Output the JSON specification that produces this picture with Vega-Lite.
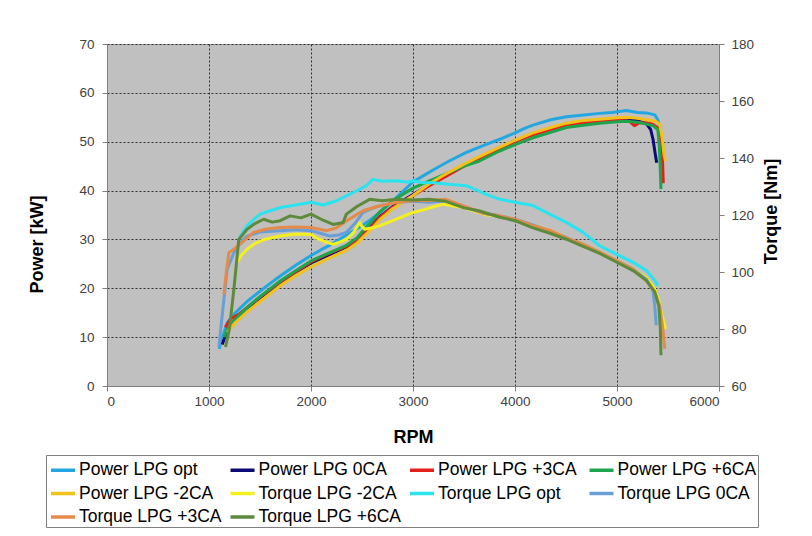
{
  "$schema": "https://vega.github.io/schema/vega-lite/v6.json",
  "width": 612,
  "height": 342,
  "autosize": {"type": "none"},
  "padding": {"left": 107, "top": 44, "right": 93, "bottom": 150},
  "background": "white",
  "config": {
    "font": "Liberation Sans",
    "view": {"fill": "#C0C0C0", "stroke": "#A0A0A0"},
    "axis": {
      "labelFont": "Liberation Sans",
      "labelFontSize": 13.5,
      "labelColor": "#404040",
      "titleFont": "Liberation Sans",
      "titleFontSize": 18,
      "titleFontWeight": "bold",
      "titleColor": "#000000",
      "tickColor": "#808080",
      "domainColor": "#808080",
      "tickSize": 5,
      "gridColor": "#303030",
      "gridDash": [2, 2],
      "gridWidth": 1,
      "gridOpacity": 1
    }
  },
  "datasets": {
    "power": [
      {"s": "Power LPG opt", "rpm": 1100, "v": 7.6}, {"s": "Power LPG opt", "rpm": 1140, "v": 10.5}, {"s": "Power LPG opt", "rpm": 1180, "v": 13.0}, {"s": "Power LPG opt", "rpm": 1250, "v": 14.8}, {"s": "Power LPG opt", "rpm": 1373, "v": 17.3}, {"s": "Power LPG opt", "rpm": 1500, "v": 19.4}, {"s": "Power LPG opt", "rpm": 1600, "v": 21.0}, {"s": "Power LPG opt", "rpm": 1698, "v": 22.5}, {"s": "Power LPG opt", "rpm": 1850, "v": 24.7}, {"s": "Power LPG opt", "rpm": 2000, "v": 26.7}, {"s": "Power LPG opt", "rpm": 2100, "v": 27.9}, {"s": "Power LPG opt", "rpm": 2200, "v": 29.0}, {"s": "Power LPG opt", "rpm": 2347, "v": 30.9}, {"s": "Power LPG opt", "rpm": 2500, "v": 32.8}, {"s": "Power LPG opt", "rpm": 2600, "v": 34.3}, {"s": "Power LPG opt", "rpm": 2672, "v": 35.5}, {"s": "Power LPG opt", "rpm": 2850, "v": 38.8}, {"s": "Power LPG opt", "rpm": 3000, "v": 41.8}, {"s": "Power LPG opt", "rpm": 3100, "v": 43.0}, {"s": "Power LPG opt", "rpm": 3196, "v": 44.2}, {"s": "Power LPG opt", "rpm": 3350, "v": 46.0}, {"s": "Power LPG opt", "rpm": 3523, "v": 47.8}, {"s": "Power LPG opt", "rpm": 3700, "v": 49.3}, {"s": "Power LPG opt", "rpm": 3850, "v": 50.5}, {"s": "Power LPG opt", "rpm": 4000, "v": 51.8}, {"s": "Power LPG opt", "rpm": 4100, "v": 52.8}, {"s": "Power LPG opt", "rpm": 4176, "v": 53.4}, {"s": "Power LPG opt", "rpm": 4350, "v": 54.5}, {"s": "Power LPG opt", "rpm": 4503, "v": 55.1}, {"s": "Power LPG opt", "rpm": 4650, "v": 55.4}, {"s": "Power LPG opt", "rpm": 4830, "v": 55.8}, {"s": "Power LPG opt", "rpm": 4950, "v": 56.0}, {"s": "Power LPG opt", "rpm": 5092, "v": 56.4}, {"s": "Power LPG opt", "rpm": 5200, "v": 56.0}, {"s": "Power LPG opt", "rpm": 5288, "v": 55.9}, {"s": "Power LPG opt", "rpm": 5370, "v": 55.5}, {"s": "Power LPG opt", "rpm": 5400, "v": 54.5}, {"s": "Power LPG opt", "rpm": 5415, "v": 53.2},
      {"s": "Power LPG 0CA", "rpm": 1130, "v": 8.5}, {"s": "Power LPG 0CA", "rpm": 1180, "v": 11.5}, {"s": "Power LPG 0CA", "rpm": 1250, "v": 13.4}, {"s": "Power LPG 0CA", "rpm": 1373, "v": 15.9}, {"s": "Power LPG 0CA", "rpm": 1500, "v": 18.0}, {"s": "Power LPG 0CA", "rpm": 1698, "v": 21.2}, {"s": "Power LPG 0CA", "rpm": 1850, "v": 23.3}, {"s": "Power LPG 0CA", "rpm": 2000, "v": 25.2}, {"s": "Power LPG 0CA", "rpm": 2150, "v": 26.6}, {"s": "Power LPG 0CA", "rpm": 2347, "v": 28.4}, {"s": "Power LPG 0CA", "rpm": 2450, "v": 29.9}, {"s": "Power LPG 0CA", "rpm": 2510, "v": 31.2}, {"s": "Power LPG 0CA", "rpm": 2600, "v": 33.0}, {"s": "Power LPG 0CA", "rpm": 2672, "v": 34.6}, {"s": "Power LPG 0CA", "rpm": 2800, "v": 36.7}, {"s": "Power LPG 0CA", "rpm": 3000, "v": 39.2}, {"s": "Power LPG 0CA", "rpm": 3160, "v": 41.2}, {"s": "Power LPG 0CA", "rpm": 3321, "v": 43.0}, {"s": "Power LPG 0CA", "rpm": 3500, "v": 45.1}, {"s": "Power LPG 0CA", "rpm": 3646, "v": 46.6}, {"s": "Power LPG 0CA", "rpm": 3850, "v": 48.8}, {"s": "Power LPG 0CA", "rpm": 4000, "v": 50.2}, {"s": "Power LPG 0CA", "rpm": 4176, "v": 51.6}, {"s": "Power LPG 0CA", "rpm": 4350, "v": 52.7}, {"s": "Power LPG 0CA", "rpm": 4503, "v": 53.6}, {"s": "Power LPG 0CA", "rpm": 4650, "v": 54.0}, {"s": "Power LPG 0CA", "rpm": 4830, "v": 54.3}, {"s": "Power LPG 0CA", "rpm": 5000, "v": 54.6}, {"s": "Power LPG 0CA", "rpm": 5092, "v": 54.7}, {"s": "Power LPG 0CA", "rpm": 5200, "v": 54.3}, {"s": "Power LPG 0CA", "rpm": 5288, "v": 53.7}, {"s": "Power LPG 0CA", "rpm": 5330, "v": 52.5}, {"s": "Power LPG 0CA", "rpm": 5353, "v": 50.5}, {"s": "Power LPG 0CA", "rpm": 5375, "v": 47.5}, {"s": "Power LPG 0CA", "rpm": 5389, "v": 45.7},
      {"s": "Power LPG +3CA", "rpm": 1160, "v": 12.0}, {"s": "Power LPG +3CA", "rpm": 1211, "v": 13.7}, {"s": "Power LPG +3CA", "rpm": 1300, "v": 14.8}, {"s": "Power LPG +3CA", "rpm": 1400, "v": 16.5}, {"s": "Power LPG +3CA", "rpm": 1500, "v": 18.2}, {"s": "Power LPG +3CA", "rpm": 1698, "v": 21.3}, {"s": "Power LPG +3CA", "rpm": 1850, "v": 23.4}, {"s": "Power LPG +3CA", "rpm": 2000, "v": 25.4}, {"s": "Power LPG +3CA", "rpm": 2150, "v": 26.9}, {"s": "Power LPG +3CA", "rpm": 2347, "v": 28.6}, {"s": "Power LPG +3CA", "rpm": 2450, "v": 29.8}, {"s": "Power LPG +3CA", "rpm": 2510, "v": 31.0}, {"s": "Power LPG +3CA", "rpm": 2600, "v": 32.8}, {"s": "Power LPG +3CA", "rpm": 2672, "v": 34.5}, {"s": "Power LPG +3CA", "rpm": 2800, "v": 36.6}, {"s": "Power LPG +3CA", "rpm": 3000, "v": 39.0}, {"s": "Power LPG +3CA", "rpm": 3160, "v": 41.0}, {"s": "Power LPG +3CA", "rpm": 3321, "v": 42.9}, {"s": "Power LPG +3CA", "rpm": 3500, "v": 45.0}, {"s": "Power LPG +3CA", "rpm": 3646, "v": 46.5}, {"s": "Power LPG +3CA", "rpm": 3850, "v": 48.6}, {"s": "Power LPG +3CA", "rpm": 4000, "v": 50.0}, {"s": "Power LPG +3CA", "rpm": 4176, "v": 51.4}, {"s": "Power LPG +3CA", "rpm": 4350, "v": 52.5}, {"s": "Power LPG +3CA", "rpm": 4503, "v": 53.3}, {"s": "Power LPG +3CA", "rpm": 4650, "v": 53.8}, {"s": "Power LPG +3CA", "rpm": 4830, "v": 54.2}, {"s": "Power LPG +3CA", "rpm": 5000, "v": 54.5}, {"s": "Power LPG +3CA", "rpm": 5120, "v": 54.2}, {"s": "Power LPG +3CA", "rpm": 5170, "v": 53.3}, {"s": "Power LPG +3CA", "rpm": 5220, "v": 53.9}, {"s": "Power LPG +3CA", "rpm": 5288, "v": 53.9}, {"s": "Power LPG +3CA", "rpm": 5350, "v": 53.6}, {"s": "Power LPG +3CA", "rpm": 5400, "v": 52.8}, {"s": "Power LPG +3CA", "rpm": 5430, "v": 50.5}, {"s": "Power LPG +3CA", "rpm": 5445, "v": 47.0}, {"s": "Power LPG +3CA", "rpm": 5454, "v": 41.5},
      {"s": "Power LPG +6CA", "rpm": 1146, "v": 10.0}, {"s": "Power LPG +6CA", "rpm": 1180, "v": 11.6}, {"s": "Power LPG +6CA", "rpm": 1250, "v": 13.5}, {"s": "Power LPG +6CA", "rpm": 1373, "v": 16.1}, {"s": "Power LPG +6CA", "rpm": 1500, "v": 18.3}, {"s": "Power LPG +6CA", "rpm": 1698, "v": 21.5}, {"s": "Power LPG +6CA", "rpm": 1850, "v": 23.6}, {"s": "Power LPG +6CA", "rpm": 2000, "v": 25.6}, {"s": "Power LPG +6CA", "rpm": 2150, "v": 27.0}, {"s": "Power LPG +6CA", "rpm": 2347, "v": 28.8}, {"s": "Power LPG +6CA", "rpm": 2450, "v": 30.3}, {"s": "Power LPG +6CA", "rpm": 2510, "v": 31.8}, {"s": "Power LPG +6CA", "rpm": 2600, "v": 33.8}, {"s": "Power LPG +6CA", "rpm": 2672, "v": 35.6}, {"s": "Power LPG +6CA", "rpm": 2800, "v": 37.9}, {"s": "Power LPG +6CA", "rpm": 3000, "v": 40.5}, {"s": "Power LPG +6CA", "rpm": 3160, "v": 42.0}, {"s": "Power LPG +6CA", "rpm": 3321, "v": 43.4}, {"s": "Power LPG +6CA", "rpm": 3500, "v": 45.0}, {"s": "Power LPG +6CA", "rpm": 3646, "v": 46.0}, {"s": "Power LPG +6CA", "rpm": 3850, "v": 48.1}, {"s": "Power LPG +6CA", "rpm": 4000, "v": 49.4}, {"s": "Power LPG +6CA", "rpm": 4176, "v": 50.8}, {"s": "Power LPG +6CA", "rpm": 4350, "v": 51.9}, {"s": "Power LPG +6CA", "rpm": 4503, "v": 52.9}, {"s": "Power LPG +6CA", "rpm": 4650, "v": 53.3}, {"s": "Power LPG +6CA", "rpm": 4830, "v": 53.8}, {"s": "Power LPG +6CA", "rpm": 5000, "v": 54.1}, {"s": "Power LPG +6CA", "rpm": 5092, "v": 54.2}, {"s": "Power LPG +6CA", "rpm": 5200, "v": 54.0}, {"s": "Power LPG +6CA", "rpm": 5288, "v": 53.6}, {"s": "Power LPG +6CA", "rpm": 5350, "v": 53.3}, {"s": "Power LPG +6CA", "rpm": 5400, "v": 52.5}, {"s": "Power LPG +6CA", "rpm": 5415, "v": 49.0}, {"s": "Power LPG +6CA", "rpm": 5425, "v": 44.0}, {"s": "Power LPG +6CA", "rpm": 5431, "v": 40.3},
      {"s": "Power LPG -2CA", "rpm": 1179, "v": 11.0}, {"s": "Power LPG -2CA", "rpm": 1250, "v": 12.8}, {"s": "Power LPG -2CA", "rpm": 1373, "v": 15.2}, {"s": "Power LPG -2CA", "rpm": 1500, "v": 17.3}, {"s": "Power LPG -2CA", "rpm": 1698, "v": 20.5}, {"s": "Power LPG -2CA", "rpm": 1850, "v": 22.6}, {"s": "Power LPG -2CA", "rpm": 2000, "v": 24.4}, {"s": "Power LPG -2CA", "rpm": 2150, "v": 25.9}, {"s": "Power LPG -2CA", "rpm": 2347, "v": 27.8}, {"s": "Power LPG -2CA", "rpm": 2450, "v": 29.2}, {"s": "Power LPG -2CA", "rpm": 2510, "v": 30.5}, {"s": "Power LPG -2CA", "rpm": 2600, "v": 32.3}, {"s": "Power LPG -2CA", "rpm": 2672, "v": 34.0}, {"s": "Power LPG -2CA", "rpm": 2800, "v": 36.3}, {"s": "Power LPG -2CA", "rpm": 3000, "v": 39.0}, {"s": "Power LPG -2CA", "rpm": 3160, "v": 41.4}, {"s": "Power LPG -2CA", "rpm": 3321, "v": 43.4}, {"s": "Power LPG -2CA", "rpm": 3500, "v": 45.4}, {"s": "Power LPG -2CA", "rpm": 3646, "v": 46.9}, {"s": "Power LPG -2CA", "rpm": 3850, "v": 48.9}, {"s": "Power LPG -2CA", "rpm": 4000, "v": 50.3}, {"s": "Power LPG -2CA", "rpm": 4176, "v": 51.8}, {"s": "Power LPG -2CA", "rpm": 4350, "v": 52.9}, {"s": "Power LPG -2CA", "rpm": 4503, "v": 53.8}, {"s": "Power LPG -2CA", "rpm": 4650, "v": 54.3}, {"s": "Power LPG -2CA", "rpm": 4830, "v": 54.6}, {"s": "Power LPG -2CA", "rpm": 5000, "v": 54.9}, {"s": "Power LPG -2CA", "rpm": 5092, "v": 55.0}, {"s": "Power LPG -2CA", "rpm": 5200, "v": 54.8}, {"s": "Power LPG -2CA", "rpm": 5288, "v": 54.5}, {"s": "Power LPG -2CA", "rpm": 5380, "v": 54.2}, {"s": "Power LPG -2CA", "rpm": 5420, "v": 53.5}, {"s": "Power LPG -2CA", "rpm": 5445, "v": 50.5}, {"s": "Power LPG -2CA", "rpm": 5460, "v": 47.5}, {"s": "Power LPG -2CA", "rpm": 5475, "v": 46.0}
    ],
    "torque": [
      {"s": "Torque LPG -2CA", "rpm": 1276, "v": 103.4}, {"s": "Torque LPG -2CA", "rpm": 1320, "v": 106.0}, {"s": "Torque LPG -2CA", "rpm": 1373, "v": 108.0}, {"s": "Torque LPG -2CA", "rpm": 1450, "v": 110.0}, {"s": "Torque LPG -2CA", "rpm": 1550, "v": 111.5}, {"s": "Torque LPG -2CA", "rpm": 1698, "v": 112.6}, {"s": "Torque LPG -2CA", "rpm": 1850, "v": 113.3}, {"s": "Torque LPG -2CA", "rpm": 2000, "v": 113.2}, {"s": "Torque LPG -2CA", "rpm": 2050, "v": 112.0}, {"s": "Torque LPG -2CA", "rpm": 2088, "v": 111.4}, {"s": "Torque LPG -2CA", "rpm": 2150, "v": 110.5}, {"s": "Torque LPG -2CA", "rpm": 2218, "v": 109.7}, {"s": "Torque LPG -2CA", "rpm": 2280, "v": 110.5}, {"s": "Torque LPG -2CA", "rpm": 2347, "v": 111.4}, {"s": "Torque LPG -2CA", "rpm": 2420, "v": 114.0}, {"s": "Torque LPG -2CA", "rpm": 2477, "v": 117.4}, {"s": "Torque LPG -2CA", "rpm": 2500, "v": 116.0}, {"s": "Torque LPG -2CA", "rpm": 2526, "v": 115.0}, {"s": "Torque LPG -2CA", "rpm": 2600, "v": 115.5}, {"s": "Torque LPG -2CA", "rpm": 2672, "v": 116.2}, {"s": "Torque LPG -2CA", "rpm": 2800, "v": 118.0}, {"s": "Torque LPG -2CA", "rpm": 3000, "v": 120.9}, {"s": "Torque LPG -2CA", "rpm": 3100, "v": 121.8}, {"s": "Torque LPG -2CA", "rpm": 3192, "v": 122.8}, {"s": "Torque LPG -2CA", "rpm": 3300, "v": 123.8}, {"s": "Torque LPG -2CA", "rpm": 3500, "v": 122.5}, {"s": "Torque LPG -2CA", "rpm": 3700, "v": 120.2}, {"s": "Torque LPG -2CA", "rpm": 3850, "v": 119.5}, {"s": "Torque LPG -2CA", "rpm": 4000, "v": 118.3}, {"s": "Torque LPG -2CA", "rpm": 4200, "v": 116.0}, {"s": "Torque LPG -2CA", "rpm": 4350, "v": 114.5}, {"s": "Torque LPG -2CA", "rpm": 4500, "v": 112.0}, {"s": "Torque LPG -2CA", "rpm": 4650, "v": 109.5}, {"s": "Torque LPG -2CA", "rpm": 4830, "v": 106.8}, {"s": "Torque LPG -2CA", "rpm": 5000, "v": 103.8}, {"s": "Torque LPG -2CA", "rpm": 5157, "v": 101.0}, {"s": "Torque LPG -2CA", "rpm": 5288, "v": 98.0}, {"s": "Torque LPG -2CA", "rpm": 5370, "v": 94.0}, {"s": "Torque LPG -2CA", "rpm": 5410, "v": 90.0}, {"s": "Torque LPG -2CA", "rpm": 5440, "v": 85.0}, {"s": "Torque LPG -2CA", "rpm": 5475, "v": 80.0},
      {"s": "Torque LPG opt", "rpm": 1290, "v": 111.0}, {"s": "Torque LPG opt", "rpm": 1308, "v": 112.6}, {"s": "Torque LPG opt", "rpm": 1373, "v": 116.2}, {"s": "Torque LPG opt", "rpm": 1440, "v": 118.5}, {"s": "Torque LPG opt", "rpm": 1503, "v": 120.3}, {"s": "Torque LPG opt", "rpm": 1600, "v": 121.5}, {"s": "Torque LPG opt", "rpm": 1698, "v": 122.6}, {"s": "Torque LPG opt", "rpm": 1850, "v": 123.5}, {"s": "Torque LPG opt", "rpm": 2000, "v": 124.5}, {"s": "Torque LPG opt", "rpm": 2120, "v": 123.5}, {"s": "Torque LPG opt", "rpm": 2250, "v": 125.0}, {"s": "Torque LPG opt", "rpm": 2347, "v": 126.7}, {"s": "Torque LPG opt", "rpm": 2450, "v": 128.5}, {"s": "Torque LPG opt", "rpm": 2542, "v": 130.3}, {"s": "Torque LPG opt", "rpm": 2607, "v": 132.5}, {"s": "Torque LPG opt", "rpm": 2700, "v": 131.8}, {"s": "Torque LPG opt", "rpm": 2834, "v": 132.0}, {"s": "Torque LPG opt", "rpm": 2950, "v": 131.5}, {"s": "Torque LPG opt", "rpm": 3000, "v": 132.0}, {"s": "Torque LPG opt", "rpm": 3100, "v": 131.3}, {"s": "Torque LPG opt", "rpm": 3196, "v": 131.3}, {"s": "Torque LPG opt", "rpm": 3350, "v": 130.8}, {"s": "Torque LPG opt", "rpm": 3523, "v": 130.3}, {"s": "Torque LPG opt", "rpm": 3700, "v": 127.5}, {"s": "Torque LPG opt", "rpm": 3850, "v": 125.5}, {"s": "Torque LPG opt", "rpm": 4000, "v": 124.5}, {"s": "Torque LPG opt", "rpm": 4176, "v": 123.3}, {"s": "Torque LPG opt", "rpm": 4340, "v": 120.3}, {"s": "Torque LPG opt", "rpm": 4503, "v": 117.4}, {"s": "Torque LPG opt", "rpm": 4667, "v": 113.9}, {"s": "Torque LPG opt", "rpm": 4830, "v": 109.2}, {"s": "Torque LPG opt", "rpm": 4993, "v": 106.3}, {"s": "Torque LPG opt", "rpm": 5157, "v": 103.4}, {"s": "Torque LPG opt", "rpm": 5288, "v": 100.5}, {"s": "Torque LPG opt", "rpm": 5370, "v": 97.0}, {"s": "Torque LPG opt", "rpm": 5402, "v": 95.2},
      {"s": "Torque LPG 0CA", "rpm": 1097, "v": 73.7}, {"s": "Torque LPG 0CA", "rpm": 1130, "v": 85.0}, {"s": "Torque LPG 0CA", "rpm": 1160, "v": 95.0}, {"s": "Torque LPG 0CA", "rpm": 1179, "v": 101.0}, {"s": "Torque LPG 0CA", "rpm": 1244, "v": 106.8}, {"s": "Torque LPG 0CA", "rpm": 1300, "v": 110.0}, {"s": "Torque LPG 0CA", "rpm": 1373, "v": 112.6}, {"s": "Torque LPG 0CA", "rpm": 1500, "v": 114.0}, {"s": "Torque LPG 0CA", "rpm": 1698, "v": 114.5}, {"s": "Torque LPG 0CA", "rpm": 1850, "v": 114.8}, {"s": "Torque LPG 0CA", "rpm": 2000, "v": 114.5}, {"s": "Torque LPG 0CA", "rpm": 2100, "v": 113.5}, {"s": "Torque LPG 0CA", "rpm": 2185, "v": 112.6}, {"s": "Torque LPG 0CA", "rpm": 2270, "v": 113.0}, {"s": "Torque LPG 0CA", "rpm": 2347, "v": 113.9}, {"s": "Torque LPG 0CA", "rpm": 2430, "v": 117.0}, {"s": "Torque LPG 0CA", "rpm": 2510, "v": 120.9}, {"s": "Torque LPG 0CA", "rpm": 2650, "v": 123.0}, {"s": "Torque LPG 0CA", "rpm": 2834, "v": 124.5}, {"s": "Torque LPG 0CA", "rpm": 3000, "v": 124.8}, {"s": "Torque LPG 0CA", "rpm": 3159, "v": 124.5}, {"s": "Torque LPG 0CA", "rpm": 3321, "v": 125.0}, {"s": "Torque LPG 0CA", "rpm": 3523, "v": 122.6}, {"s": "Torque LPG 0CA", "rpm": 3700, "v": 120.5}, {"s": "Torque LPG 0CA", "rpm": 3850, "v": 119.7}, {"s": "Torque LPG 0CA", "rpm": 4000, "v": 118.5}, {"s": "Torque LPG 0CA", "rpm": 4176, "v": 116.5}, {"s": "Torque LPG 0CA", "rpm": 4350, "v": 114.0}, {"s": "Torque LPG 0CA", "rpm": 4503, "v": 112.1}, {"s": "Torque LPG 0CA", "rpm": 4667, "v": 109.5}, {"s": "Torque LPG 0CA", "rpm": 4830, "v": 106.8}, {"s": "Torque LPG 0CA", "rpm": 4993, "v": 104.0}, {"s": "Torque LPG 0CA", "rpm": 5157, "v": 101.0}, {"s": "Torque LPG 0CA", "rpm": 5288, "v": 97.5}, {"s": "Torque LPG 0CA", "rpm": 5353, "v": 93.5}, {"s": "Torque LPG 0CA", "rpm": 5370, "v": 88.0}, {"s": "Torque LPG 0CA", "rpm": 5385, "v": 81.3},
      {"s": "Torque LPG +3CA", "rpm": 1146, "v": 92.2}, {"s": "Torque LPG +3CA", "rpm": 1170, "v": 100.0}, {"s": "Torque LPG +3CA", "rpm": 1195, "v": 106.8}, {"s": "Torque LPG +3CA", "rpm": 1244, "v": 108.0}, {"s": "Torque LPG +3CA", "rpm": 1325, "v": 110.4}, {"s": "Torque LPG +3CA", "rpm": 1438, "v": 113.9}, {"s": "Torque LPG +3CA", "rpm": 1550, "v": 115.0}, {"s": "Torque LPG +3CA", "rpm": 1698, "v": 115.6}, {"s": "Torque LPG +3CA", "rpm": 1850, "v": 115.8}, {"s": "Torque LPG +3CA", "rpm": 2000, "v": 115.6}, {"s": "Torque LPG +3CA", "rpm": 2153, "v": 114.5}, {"s": "Torque LPG +3CA", "rpm": 2250, "v": 115.5}, {"s": "Torque LPG +3CA", "rpm": 2347, "v": 117.9}, {"s": "Torque LPG +3CA", "rpm": 2510, "v": 121.5}, {"s": "Torque LPG +3CA", "rpm": 2650, "v": 123.0}, {"s": "Torque LPG +3CA", "rpm": 2834, "v": 124.5}, {"s": "Torque LPG +3CA", "rpm": 3000, "v": 125.0}, {"s": "Torque LPG +3CA", "rpm": 3159, "v": 125.1}, {"s": "Torque LPG +3CA", "rpm": 3321, "v": 125.5}, {"s": "Torque LPG +3CA", "rpm": 3523, "v": 122.8}, {"s": "Torque LPG +3CA", "rpm": 3700, "v": 120.5}, {"s": "Torque LPG +3CA", "rpm": 3850, "v": 119.7}, {"s": "Torque LPG +3CA", "rpm": 4000, "v": 118.5}, {"s": "Torque LPG +3CA", "rpm": 4176, "v": 116.3}, {"s": "Torque LPG +3CA", "rpm": 4350, "v": 114.5}, {"s": "Torque LPG +3CA", "rpm": 4503, "v": 112.0}, {"s": "Torque LPG +3CA", "rpm": 4667, "v": 109.8}, {"s": "Torque LPG +3CA", "rpm": 4830, "v": 107.0}, {"s": "Torque LPG +3CA", "rpm": 4993, "v": 104.0}, {"s": "Torque LPG +3CA", "rpm": 5157, "v": 101.0}, {"s": "Torque LPG +3CA", "rpm": 5288, "v": 97.0}, {"s": "Torque LPG +3CA", "rpm": 5370, "v": 93.0}, {"s": "Torque LPG +3CA", "rpm": 5420, "v": 88.0}, {"s": "Torque LPG +3CA", "rpm": 5450, "v": 80.0}, {"s": "Torque LPG +3CA", "rpm": 5468, "v": 73.0},
      {"s": "Torque LPG +6CA", "rpm": 1162, "v": 73.7}, {"s": "Torque LPG +6CA", "rpm": 1200, "v": 80.0}, {"s": "Torque LPG +6CA", "rpm": 1244, "v": 94.0}, {"s": "Torque LPG +6CA", "rpm": 1292, "v": 111.4}, {"s": "Torque LPG +6CA", "rpm": 1373, "v": 115.0}, {"s": "Torque LPG +6CA", "rpm": 1450, "v": 117.0}, {"s": "Torque LPG +6CA", "rpm": 1536, "v": 118.5}, {"s": "Torque LPG +6CA", "rpm": 1620, "v": 117.5}, {"s": "Torque LPG +6CA", "rpm": 1698, "v": 118.0}, {"s": "Torque LPG +6CA", "rpm": 1795, "v": 119.7}, {"s": "Torque LPG +6CA", "rpm": 1900, "v": 119.0}, {"s": "Torque LPG +6CA", "rpm": 2000, "v": 120.3}, {"s": "Torque LPG +6CA", "rpm": 2100, "v": 118.5}, {"s": "Torque LPG +6CA", "rpm": 2218, "v": 116.7}, {"s": "Torque LPG +6CA", "rpm": 2315, "v": 117.4}, {"s": "Torque LPG +6CA", "rpm": 2347, "v": 120.3}, {"s": "Torque LPG +6CA", "rpm": 2450, "v": 123.0}, {"s": "Torque LPG +6CA", "rpm": 2575, "v": 125.5}, {"s": "Torque LPG +6CA", "rpm": 2700, "v": 125.0}, {"s": "Torque LPG +6CA", "rpm": 2834, "v": 125.5}, {"s": "Torque LPG +6CA", "rpm": 3000, "v": 125.3}, {"s": "Torque LPG +6CA", "rpm": 3159, "v": 125.5}, {"s": "Torque LPG +6CA", "rpm": 3321, "v": 124.8}, {"s": "Torque LPG +6CA", "rpm": 3500, "v": 122.5}, {"s": "Torque LPG +6CA", "rpm": 3646, "v": 121.5}, {"s": "Torque LPG +6CA", "rpm": 3850, "v": 119.2}, {"s": "Torque LPG +6CA", "rpm": 4000, "v": 118.0}, {"s": "Torque LPG +6CA", "rpm": 4176, "v": 115.5}, {"s": "Torque LPG +6CA", "rpm": 4350, "v": 113.5}, {"s": "Torque LPG +6CA", "rpm": 4503, "v": 111.5}, {"s": "Torque LPG +6CA", "rpm": 4667, "v": 109.0}, {"s": "Torque LPG +6CA", "rpm": 4830, "v": 106.5}, {"s": "Torque LPG +6CA", "rpm": 4993, "v": 103.5}, {"s": "Torque LPG +6CA", "rpm": 5157, "v": 100.5}, {"s": "Torque LPG +6CA", "rpm": 5288, "v": 97.0}, {"s": "Torque LPG +6CA", "rpm": 5370, "v": 93.0}, {"s": "Torque LPG +6CA", "rpm": 5410, "v": 88.0}, {"s": "Torque LPG +6CA", "rpm": 5425, "v": 80.0}, {"s": "Torque LPG +6CA", "rpm": 5431, "v": 70.8}
    ]
  },
  "encoding": {
    "x": {
      "field": "rpm",
      "type": "quantitative",
      "scale": {"domain": [0, 6000], "nice": false},
      "axis": {
        "title": "RPM",
        "values": [0, 1000, 2000, 3000, 4000, 5000, 6000],
        "format": "d",
        "labelPadding": 3,
        "titlePadding": 21,
        "grid": true
      }
    },
    "color": {
      "field": "s",
      "type": "nominal",
      "scale": {
        "domain": ["Power LPG opt", "Power LPG 0CA", "Power LPG +3CA", "Power LPG +6CA", "Power LPG -2CA", "Torque LPG -2CA", "Torque LPG opt", "Torque LPG 0CA", "Torque LPG +3CA", "Torque LPG +6CA"],
        "range": ["#22A7E0", "#0B0B78", "#E2211C", "#1FA44E", "#F2C21A", "#F4EF1E", "#2AE3EE", "#6A9ED6", "#E48A4A", "#5E8A3C"]
      },
      "legend": {
        "title": null,
        "orient": "none",
        "legendX": -61,
        "legendY": 411,
        "direction": "horizontal",
        "columns": 4,
        "gridAlign": "all",
        "columnPadding": 1.5,
        "rowPadding": 0.5,
        "symbolType": "stroke",
        "symbolSize": 576,
        "symbolStrokeWidth": 3.5,
        "symbolOffset": 2,
        "labelFont": "Liberation Sans",
        "labelFontSize": 17.5,
        "labelColor": "#000000",
        "labelOffset": 2,
        "labelLimit": 300,
        "padding": 1,
        "strokeColor": "#808080",
        "fillColor": "#FFFFFF"
      }
    }
  },
  "layer": [
    {
      "data": {"name": "power"},
      "mark": {"type": "line", "strokeWidth": 3, "strokeJoin": "round"},
      "encoding": {
        "y": {
          "field": "v",
          "type": "quantitative",
          "scale": {"domain": [0, 70], "nice": false},
          "axis": {
            "title": "Power [kW]",
            "values": [0, 10, 20, 30, 40, 50, 60, 70],
            "labelPadding": 8,
            "grid": true,
            "titleAngle": -90,
            "titleX": -70,
            "titleY": 200,
            "titleAlign": "center",
            "titleBaseline": "middle"
          }
        }
      }
    },
    {
      "data": {"name": "torque"},
      "mark": {"type": "line", "strokeWidth": 3, "strokeJoin": "round"},
      "encoding": {
        "y": {
          "field": "v",
          "type": "quantitative",
          "scale": {"domain": [60, 180], "nice": false},
          "axis": {
            "title": "Torque [Nm]",
            "orient": "right",
            "values": [60, 80, 100, 120, 140, 160, 180],
            "labelPadding": 7,
            "grid": false,
            "titleAngle": -90,
            "titleX": 52,
            "titleY": 167,
            "titleAlign": "center",
            "titleBaseline": "middle"
          }
        }
      }
    }
  ],
  "resolve": {"scale": {"y": "independent"}}
}
